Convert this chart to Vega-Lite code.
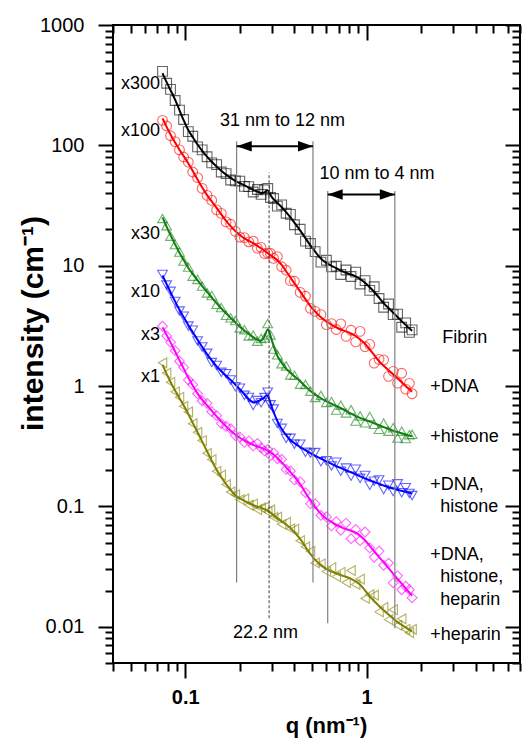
{
  "$schema": "https://vega.github.io/schema/vega-lite/v6.json",
  "width": 407,
  "height": 638,
  "autosize": "none",
  "padding": {"left": 113, "top": 25, "right": 2, "bottom": 75},
  "config": {"font": "Liberation Sans", "view": {"stroke": "black", "strokeWidth": 2}},
  "resolve": {"axis": {"x": "independent", "y": "independent"}},
  "datasets": {
    "pts": [
      {"s":"Fibrin","q":0.075,"f":397,"o":412},{"s":"Fibrin","q":0.079,"f":334,"o":328},{"s":"Fibrin","q":0.083,"f":287,"o":292},{"s":"Fibrin","q":0.088,"f":241,"o":236},{"s":"Fibrin","q":0.093,"f":196,"o":196},{"s":"Fibrin","q":0.098,"f":161,"o":164},{"s":"Fibrin","q":0.104,"f":133,"o":130},{"s":"Fibrin","q":0.11,"f":117,"o":119},{"s":"Fibrin","q":0.117,"f":101,"o":97.2},{"s":"Fibrin","q":0.124,"f":90,"o":91.7},{"s":"Fibrin","q":0.132,"f":80.4,"o":80.4},{"s":"Fibrin","q":0.14,"f":73,"o":71.6},{"s":"Fibrin","q":0.149,"f":66.5,"o":69.1},{"s":"Fibrin","q":0.158,"f":61.3,"o":60.1},{"s":"Fibrin","q":0.168,"f":57.1,"o":58.2},{"s":"Fibrin","q":0.178,"f":53.5,"o":51.5},{"s":"Fibrin","q":0.189,"f":50.7,"o":50.7},{"s":"Fibrin","q":0.2,"f":48.6,"o":50.5},{"s":"Fibrin","q":0.212,"f":46.5,"o":45.6},{"s":"Fibrin","q":0.224,"f":44.6,"o":45.4},{"s":"Fibrin","q":0.237,"f":42.6,"o":41},{"s":"Fibrin","q":0.25,"f":41.4,"o":43},{"s":"Fibrin","q":0.262,"f":39.9,"o":39.1},{"s":"Fibrin","q":0.274,"f":40.3,"o":42.7},{"s":"Fibrin","q":0.285,"f":43.8,"o":43.8},{"s":"Fibrin","q":0.295,"f":38.4,"o":36.9},{"s":"Fibrin","q":0.307,"f":35.5,"o":36.2},{"s":"Fibrin","q":0.322,"f":33.2,"o":31.3},{"s":"Fibrin","q":0.34,"f":30.8,"o":32},{"s":"Fibrin","q":0.36,"f":27.8,"o":27.3},{"s":"Fibrin","q":0.38,"f":25.2,"o":26.7},{"s":"Fibrin","q":0.4,"f":22.8,"o":21.9},{"s":"Fibrin","q":0.43,"f":19.7,"o":20.1},{"s":"Fibrin","q":0.46,"f":16.9,"o":16},{"s":"Fibrin","q":0.49,"f":14.7,"o":15.3},{"s":"Fibrin","q":0.52,"f":13.1,"o":13.1},{"s":"Fibrin","q":0.56,"f":11.3,"o":10.7},{"s":"Fibrin","q":0.6,"f":10.5,"o":11.1},{"s":"Fibrin","q":0.64,"f":9.98,"o":9.79},{"s":"Fibrin","q":0.68,"f":9.53,"o":9.9},{"s":"Fibrin","q":0.72,"f":9.12,"o":8.45},{"s":"Fibrin","q":0.77,"f":8.71,"o":9.22},{"s":"Fibrin","q":0.82,"f":8.45,"o":8.13},{"s":"Fibrin","q":0.87,"f":8.19,"o":8.85},{"s":"Fibrin","q":0.92,"f":7.76,"o":7.05},{"s":"Fibrin","q":0.98,"f":7.23,"o":7.51},{"s":"Fibrin","q":1.04,"f":6.61,"o":6.24},{"s":"Fibrin","q":1.1,"f":6.08,"o":6.69},{"s":"Fibrin","q":1.17,"f":5.44,"o":5.34},{"s":"Fibrin","q":1.24,"f":4.88,"o":4.52},{"s":"Fibrin","q":1.32,"f":4.45,"o":4.81},{"s":"Fibrin","q":1.4,"f":4.07,"o":3.92},{"s":"Fibrin","q":1.48,"f":3.74,"o":3.96},{"s":"Fibrin","q":1.56,"f":3.46,"o":3.08},{"s":"Fibrin","q":1.64,"f":3.22,"o":3.35},{"s":"Fibrin","q":1.72,"f":3.01,"o":2.79},{"s":"Fibrin","q":1.78,"f":2.88,"o":2.93},
      {"s":"+DNA","q":0.075,"f":167.7,"o":161.3},{"s":"+DNA","q":0.079,"f":142.2,"o":144.9},{"s":"+DNA","q":0.083,"f":122.5,"o":120.2},{"s":"+DNA","q":0.088,"f":105.5,"o":107.5},{"s":"+DNA","q":0.093,"f":91.7,"o":91.7},{"s":"+DNA","q":0.098,"f":81.6,"o":80},{"s":"+DNA","q":0.104,"f":71.2,"o":72.6},{"s":"+DNA","q":0.11,"f":61.3,"o":60.1},{"s":"+DNA","q":0.117,"f":51.9,"o":53.9},{"s":"+DNA","q":0.124,"f":44.7,"o":43.9},{"s":"+DNA","q":0.132,"f":38.4,"o":38.4},{"s":"+DNA","q":0.14,"f":34.2,"o":34.9},{"s":"+DNA","q":0.149,"f":30.3,"o":29.1},{"s":"+DNA","q":0.158,"f":26.7,"o":27.2},{"s":"+DNA","q":0.168,"f":23.5,"o":23.1},{"s":"+DNA","q":0.178,"f":21.3,"o":22.1},{"s":"+DNA","q":0.189,"f":19.3,"o":19.3},{"s":"+DNA","q":0.2,"f":17.97,"o":17.3},{"s":"+DNA","q":0.212,"f":16.8,"o":17.1},{"s":"+DNA","q":0.224,"f":16.1,"o":15.8},{"s":"+DNA","q":0.237,"f":15.4,"o":16},{"s":"+DNA","q":0.25,"f":14.6,"o":14},{"s":"+DNA","q":0.262,"f":13.98,"o":14.2},{"s":"+DNA","q":0.274,"f":13.3,"o":12.6},{"s":"+DNA","q":0.285,"f":12.7,"o":12.7},{"s":"+DNA","q":0.295,"f":12.25,"o":12.7},{"s":"+DNA","q":0.307,"f":11.7,"o":11.5},{"s":"+DNA","q":0.322,"f":11.2,"o":11.9},{"s":"+DNA","q":0.34,"f":10.2,"o":9.81},{"s":"+DNA","q":0.36,"f":9,"o":9.17},{"s":"+DNA","q":0.38,"f":7.96,"o":7.51},{"s":"+DNA","q":0.4,"f":7.15,"o":7.43},{"s":"+DNA","q":0.43,"f":6.12,"o":6},{"s":"+DNA","q":0.46,"f":5.26,"o":5.57},{"s":"+DNA","q":0.49,"f":4.59,"o":4.42},{"s":"+DNA","q":0.52,"f":4.17,"o":4.17},{"s":"+DNA","q":0.56,"f":3.7,"o":3.92},{"s":"+DNA","q":0.6,"f":3.43,"o":3.24},{"s":"+DNA","q":0.64,"f":3.24,"o":3.3},{"s":"+DNA","q":0.68,"f":3.07,"o":2.95},{"s":"+DNA","q":0.72,"f":2.93,"o":3.29},{"s":"+DNA","q":0.77,"f":2.85,"o":2.59},{"s":"+DNA","q":0.82,"f":2.75,"o":2.91},{"s":"+DNA","q":0.87,"f":2.61,"o":2.33},{"s":"+DNA","q":0.92,"f":2.44,"o":2.85},{"s":"+DNA","q":0.98,"f":2.25,"o":2.12},{"s":"+DNA","q":1.04,"f":2.02,"o":2.22},{"s":"+DNA","q":1.1,"f":1.81,"o":1.55},{"s":"+DNA","q":1.17,"f":1.605,"o":1.668},{"s":"+DNA","q":1.24,"f":1.472,"o":1.652},{"s":"+DNA","q":1.32,"f":1.351,"o":1.204},{"s":"+DNA","q":1.4,"f":1.251,"o":1.325},{"s":"+DNA","q":1.48,"f":1.163,"o":1.057},{"s":"+DNA","q":1.56,"f":1.076,"o":1.278},{"s":"+DNA","q":1.64,"f":1,"o":0.944},{"s":"+DNA","q":1.72,"f":0.939,"o":1.054},{"s":"+DNA","q":1.78,"f":0.898,"o":0.864},
      {"s":"+histone","q":0.075,"f":25.2,"o":24.7},{"s":"+histone","q":0.079,"f":21.1,"o":21.5},{"s":"+histone","q":0.083,"f":17.9,"o":17.6},{"s":"+histone","q":0.088,"f":15,"o":15},{"s":"+histone","q":0.093,"f":12.75,"o":13},{"s":"+histone","q":0.098,"f":11.15,"o":10.94},{"s":"+histone","q":0.104,"f":9.57,"o":9.75},{"s":"+histone","q":0.11,"f":8.51,"o":8.19},{"s":"+histone","q":0.117,"f":7.56,"o":7.7},{"s":"+histone","q":0.124,"f":6.78,"o":6.78},{"s":"+histone","q":0.132,"f":6.05,"o":5.94},{"s":"+histone","q":0.14,"f":5.45,"o":5.66},{"s":"+histone","q":0.149,"f":4.87,"o":4.78},{"s":"+histone","q":0.158,"f":4.41,"o":4.49},{"s":"+histone","q":0.168,"f":4.02,"o":3.87},{"s":"+histone","q":0.178,"f":3.69,"o":3.69},{"s":"+histone","q":0.189,"f":3.37,"o":3.5},{"s":"+histone","q":0.2,"f":3.1,"o":3.04},{"s":"+histone","q":0.212,"f":2.89,"o":2.94},{"s":"+histone","q":0.224,"f":2.71,"o":2.61},{"s":"+histone","q":0.237,"f":2.55,"o":2.65},{"s":"+histone","q":0.25,"f":2.41,"o":2.36},{"s":"+histone","q":0.262,"f":2.35,"o":2.49},{"s":"+histone","q":0.274,"f":2.52,"o":2.52},{"s":"+histone","q":0.285,"f":3.18,"o":3.31},{"s":"+histone","q":0.295,"f":2.61,"o":2.66},{"s":"+histone","q":0.307,"f":2.15,"o":2.03},{"s":"+histone","q":0.322,"f":1.75,"o":1.82},{"s":"+histone","q":0.34,"f":1.565,"o":1.535},{"s":"+histone","q":0.36,"f":1.388,"o":1.47},{"s":"+histone","q":0.38,"f":1.288,"o":1.239},{"s":"+histone","q":0.4,"f":1.206,"o":1.229},{"s":"+histone","q":0.43,"f":1.098,"o":1.037},{"s":"+histone","q":0.46,"f":0.992,"o":1.031},{"s":"+histone","q":0.49,"f":0.907,"o":0.907},{"s":"+histone","q":0.52,"f":0.853,"o":0.805},{"s":"+histone","q":0.56,"f":0.789,"o":0.836},{"s":"+histone","q":0.6,"f":0.746,"o":0.732},{"s":"+histone","q":0.64,"f":0.714,"o":0.742},{"s":"+histone","q":0.68,"f":0.683,"o":0.632},{"s":"+histone","q":0.72,"f":0.655,"o":0.694},{"s":"+histone","q":0.77,"f":0.622,"o":0.598},{"s":"+histone","q":0.82,"f":0.59,"o":0.637},{"s":"+histone","q":0.87,"f":0.563,"o":0.512},{"s":"+histone","q":0.92,"f":0.544,"o":0.565},{"s":"+histone","q":0.98,"f":0.525,"o":0.496},{"s":"+histone","q":1.04,"f":0.507,"o":0.558},{"s":"+histone","q":1.1,"f":0.491,"o":0.482},{"s":"+histone","q":1.17,"f":0.473,"o":0.438},{"s":"+histone","q":1.24,"f":0.456,"o":0.492},{"s":"+histone","q":1.32,"f":0.439,"o":0.422},{"s":"+histone","q":1.4,"f":0.426,"o":0.451},{"s":"+histone","q":1.48,"f":0.415,"o":0.37},{"s":"+histone","q":1.56,"f":0.406,"o":0.422},{"s":"+histone","q":1.64,"f":0.396,"o":0.367},{"s":"+histone","q":1.72,"f":0.387,"o":0.394},{"s":"+histone","q":1.78,"f":0.382,"o":0.397},
      {"s":"+DNA, histone","q":0.075,"f":8.29,"o":8.45},{"s":"+DNA, histone","q":0.079,"f":7.03,"o":6.9},{"s":"+DNA, histone","q":0.083,"f":6.01,"o":6.12},{"s":"+DNA, histone","q":0.088,"f":5.04,"o":5.04},{"s":"+DNA, histone","q":0.093,"f":4.28,"o":4.2},{"s":"+DNA, histone","q":0.098,"f":3.74,"o":3.81},{"s":"+DNA, histone","q":0.104,"f":3.21,"o":3.15},{"s":"+DNA, histone","q":0.11,"f":2.8,"o":2.91},{"s":"+DNA, histone","q":0.117,"f":2.42,"o":2.37},{"s":"+DNA, histone","q":0.124,"f":2.11,"o":2.11},{"s":"+DNA, histone","q":0.132,"f":1.835,"o":1.87},{"s":"+DNA, histone","q":0.14,"f":1.63,"o":1.568},{"s":"+DNA, histone","q":0.149,"f":1.455,"o":1.483},{"s":"+DNA, histone","q":0.158,"f":1.325,"o":1.3},{"s":"+DNA, histone","q":0.168,"f":1.22,"o":1.268},{"s":"+DNA, histone","q":0.178,"f":1.124,"o":1.124},{"s":"+DNA, histone","q":0.189,"f":1.027,"o":0.988},{"s":"+DNA, histone","q":0.2,"f":0.942,"o":0.96},{"s":"+DNA, histone","q":0.212,"f":0.853,"o":0.837},{"s":"+DNA, histone","q":0.224,"f":0.775,"o":0.805},{"s":"+DNA, histone","q":0.237,"f":0.718,"o":0.691},{"s":"+DNA, histone","q":0.25,"f":0.743,"o":0.757},{"s":"+DNA, histone","q":0.262,"f":0.77,"o":0.727},{"s":"+DNA, histone","q":0.274,"f":0.802,"o":0.802},{"s":"+DNA, histone","q":0.285,"f":0.873,"o":0.888},{"s":"+DNA, histone","q":0.295,"f":0.712,"o":0.698},{"s":"+DNA, histone","q":0.307,"f":0.608,"o":0.644},{"s":"+DNA, histone","q":0.322,"f":0.508,"o":0.489},{"s":"+DNA, histone","q":0.34,"f":0.437,"o":0.445},{"s":"+DNA, histone","q":0.36,"f":0.39,"o":0.368},{"s":"+DNA, histone","q":0.38,"f":0.354,"o":0.368},{"s":"+DNA, histone","q":0.4,"f":0.335,"o":0.329},{"s":"+DNA, histone","q":0.43,"f":0.311,"o":0.329},{"s":"+DNA, histone","q":0.46,"f":0.293,"o":0.282},{"s":"+DNA, histone","q":0.49,"f":0.277,"o":0.277},{"s":"+DNA, histone","q":0.52,"f":0.264,"o":0.28},{"s":"+DNA, histone","q":0.56,"f":0.249,"o":0.235},{"s":"+DNA, histone","q":0.6,"f":0.236,"o":0.24},{"s":"+DNA, histone","q":0.64,"f":0.226,"o":0.217},{"s":"+DNA, histone","q":0.68,"f":0.216,"o":0.233},{"s":"+DNA, histone","q":0.72,"f":0.208,"o":0.196},{"s":"+DNA, histone","q":0.77,"f":0.2,"o":0.208},{"s":"+DNA, histone","q":0.82,"f":0.192,"o":0.178},{"s":"+DNA, histone","q":0.87,"f":0.185,"o":0.204},{"s":"+DNA, histone","q":0.92,"f":0.178,"o":0.171},{"s":"+DNA, histone","q":0.98,"f":0.171,"o":0.181},{"s":"+DNA, histone","q":1.04,"f":0.165,"o":0.15},{"s":"+DNA, histone","q":1.1,"f":0.159,"o":0.162},{"s":"+DNA, histone","q":1.17,"f":0.154,"o":0.166},{"s":"+DNA, histone","q":1.24,"f":0.149,"o":0.138},{"s":"+DNA, histone","q":1.32,"f":0.144,"o":0.15},{"s":"+DNA, histone","q":1.4,"f":0.141,"o":0.133},{"s":"+DNA, histone","q":1.48,"f":0.137,"o":0.154},{"s":"+DNA, histone","q":1.56,"f":0.135,"o":0.13},{"s":"+DNA, histone","q":1.64,"f":0.132,"o":0.143},{"s":"+DNA, histone","q":1.72,"f":0.13,"o":0.128},{"s":"+DNA, histone","q":1.78,"f":0.128,"o":0.123},
      {"s":"+DNA, histone, heparin","q":0.075,"f":3.08,"o":3.14},{"s":"+DNA, histone, heparin","q":0.079,"f":2.66,"o":2.61},{"s":"+DNA, histone, heparin","q":0.083,"f":2.31,"o":2.31},{"s":"+DNA, histone, heparin","q":0.088,"f":1.932,"o":1.969},{"s":"+DNA, histone, heparin","q":0.093,"f":1.639,"o":1.608},{"s":"+DNA, histone, heparin","q":0.098,"f":1.401,"o":1.428},{"s":"+DNA, histone, heparin","q":0.104,"f":1.17,"o":1.126},{"s":"+DNA, histone, heparin","q":0.11,"f":1.008,"o":1.027},{"s":"+DNA, histone, heparin","q":0.117,"f":0.863,"o":0.863},{"s":"+DNA, histone, heparin","q":0.124,"f":0.768,"o":0.753},{"s":"+DNA, histone, heparin","q":0.132,"f":0.692,"o":0.719},{"s":"+DNA, histone, heparin","q":0.14,"f":0.625,"o":0.613},{"s":"+DNA, histone, heparin","q":0.149,"f":0.558,"o":0.569},{"s":"+DNA, histone, heparin","q":0.158,"f":0.507,"o":0.488},{"s":"+DNA, histone, heparin","q":0.168,"f":0.462,"o":0.462},{"s":"+DNA, histone, heparin","q":0.178,"f":0.425,"o":0.442},{"s":"+DNA, histone, heparin","q":0.189,"f":0.396,"o":0.388},{"s":"+DNA, histone, heparin","q":0.2,"f":0.371,"o":0.378},{"s":"+DNA, histone, heparin","q":0.212,"f":0.353,"o":0.34},{"s":"+DNA, histone, heparin","q":0.224,"f":0.338,"o":0.351},{"s":"+DNA, histone, heparin","q":0.237,"f":0.324,"o":0.318},{"s":"+DNA, histone, heparin","q":0.25,"f":0.315,"o":0.334},{"s":"+DNA, histone, heparin","q":0.262,"f":0.307,"o":0.307},{"s":"+DNA, histone, heparin","q":0.274,"f":0.3,"o":0.289},{"s":"+DNA, histone, heparin","q":0.285,"f":0.291,"o":0.297},{"s":"+DNA, histone, heparin","q":0.295,"f":0.281,"o":0.265},{"s":"+DNA, histone, heparin","q":0.307,"f":0.269,"o":0.279},{"s":"+DNA, histone, heparin","q":0.322,"f":0.254,"o":0.249},{"s":"+DNA, histone, heparin","q":0.34,"f":0.233,"o":0.247},{"s":"+DNA, histone, heparin","q":0.36,"f":0.211,"o":0.203},{"s":"+DNA, histone, heparin","q":0.38,"f":0.193,"o":0.197},{"s":"+DNA, histone, heparin","q":0.4,"f":0.176,"o":0.166},{"s":"+DNA, histone, heparin","q":0.43,"f":0.154,"o":0.16},{"s":"+DNA, histone, heparin","q":0.46,"f":0.13,"o":0.13},{"s":"+DNA, histone, heparin","q":0.49,"f":0.1115,"o":0.1053},{"s":"+DNA, histone, heparin","q":0.52,"f":0.099,"o":0.1048},{"s":"+DNA, histone, heparin","q":0.56,"f":0.0858,"o":0.0842},{"s":"+DNA, histone, heparin","q":0.6,"f":0.0787,"o":0.0818},{"s":"+DNA, histone, heparin","q":0.64,"f":0.0743,"o":0.0688},{"s":"+DNA, histone, heparin","q":0.68,"f":0.0704,"o":0.0746},{"s":"+DNA, histone, heparin","q":0.72,"f":0.0672,"o":0.0634},{"s":"+DNA, histone, heparin","q":0.77,"f":0.0648,"o":0.0727},{"s":"+DNA, histone, heparin","q":0.82,"f":0.0628,"o":0.0539},{"s":"+DNA, histone, heparin","q":0.87,"f":0.0608,"o":0.0644},{"s":"+DNA, histone, heparin","q":0.92,"f":0.0571,"o":0.0519},{"s":"+DNA, histone, heparin","q":0.98,"f":0.0526,"o":0.0613},{"s":"+DNA, histone, heparin","q":1.04,"f":0.047,"o":0.0452},{"s":"+DNA, histone, heparin","q":1.1,"f":0.0424,"o":0.0378},{"s":"+DNA, histone, heparin","q":1.17,"f":0.038,"o":0.0426},{"s":"+DNA, histone, heparin","q":1.24,"f":0.0343,"o":0.0324},{"s":"+DNA, histone, heparin","q":1.32,"f":0.0307,"o":0.0338},{"s":"+DNA, histone, heparin","q":1.4,"f":0.0276,"o":0.0232},{"s":"+DNA, histone, heparin","q":1.48,"f":0.025,"o":0.0265},{"s":"+DNA, histone, heparin","q":1.56,"f":0.0228,"o":0.0203},{"s":"+DNA, histone, heparin","q":1.64,"f":0.0209,"o":0.0217},{"s":"+DNA, histone, heparin","q":1.72,"f":0.0192,"o":0.0203},{"s":"+DNA, histone, heparin","q":1.78,"f":0.0181,"o":0.0174},
      {"s":"+heparin","q":0.075,"f":1.501,"o":1.56},{"s":"+heparin","q":0.079,"f":1.258,"o":1.282},{"s":"+heparin","q":0.083,"f":1.076,"o":1.076},{"s":"+heparin","q":0.088,"f":0.914,"o":0.897},{"s":"+heparin","q":0.093,"f":0.792,"o":0.807},{"s":"+heparin","q":0.098,"f":0.692,"o":0.679},{"s":"+heparin","q":0.104,"f":0.587,"o":0.61},{"s":"+heparin","q":0.11,"f":0.496,"o":0.487},{"s":"+heparin","q":0.117,"f":0.413,"o":0.413},{"s":"+heparin","q":0.124,"f":0.346,"o":0.353},{"s":"+heparin","q":0.132,"f":0.287,"o":0.276},{"s":"+heparin","q":0.14,"f":0.24,"o":0.245},{"s":"+heparin","q":0.149,"f":0.2,"o":0.196},{"s":"+heparin","q":0.158,"f":0.175,"o":0.182},{"s":"+heparin","q":0.168,"f":0.152,"o":0.152},{"s":"+heparin","q":0.178,"f":0.137,"o":0.132},{"s":"+heparin","q":0.189,"f":0.123,"o":0.125},{"s":"+heparin","q":0.2,"f":0.1163,"o":0.1141},{"s":"+heparin","q":0.212,"f":0.1113,"o":0.1156},{"s":"+heparin","q":0.224,"f":0.1067,"o":0.1026},{"s":"+heparin","q":0.237,"f":0.1027,"o":0.1047},{"s":"+heparin","q":0.25,"f":0.0996,"o":0.094},{"s":"+heparin","q":0.262,"f":0.0972,"o":0.0972},{"s":"+heparin","q":0.274,"f":0.095,"o":0.0987},{"s":"+heparin","q":0.285,"f":0.0921,"o":0.0903},{"s":"+heparin","q":0.295,"f":0.0885,"o":0.0937},{"s":"+heparin","q":0.307,"f":0.0845,"o":0.0813},{"s":"+heparin","q":0.322,"f":0.0799,"o":0.0814},{"s":"+heparin","q":0.34,"f":0.0753,"o":0.0711},{"s":"+heparin","q":0.36,"f":0.0708,"o":0.0736},{"s":"+heparin","q":0.38,"f":0.0665,"o":0.0652},{"s":"+heparin","q":0.4,"f":0.0611,"o":0.0647},{"s":"+heparin","q":0.43,"f":0.054,"o":0.0519},{"s":"+heparin","q":0.46,"f":0.0462,"o":0.0462},{"s":"+heparin","q":0.49,"f":0.04,"o":0.0424},{"s":"+heparin","q":0.52,"f":0.0359,"o":0.0339},{"s":"+heparin","q":0.56,"f":0.0327,"o":0.0333},{"s":"+heparin","q":0.6,"f":0.0299,"o":0.0288},{"s":"+heparin","q":0.64,"f":0.0287,"o":0.031},{"s":"+heparin","q":0.68,"f":0.0277,"o":0.0261},{"s":"+heparin","q":0.72,"f":0.0268,"o":0.0284},{"s":"+heparin","q":0.77,"f":0.0261,"o":0.0233},{"s":"+heparin","q":0.82,"f":0.0251,"o":0.0293},{"s":"+heparin","q":0.87,"f":0.0238,"o":0.0225},{"s":"+heparin","q":0.92,"f":0.0226,"o":0.0249},{"s":"+heparin","q":0.98,"f":0.02,"o":0.0172},{"s":"+heparin","q":1.04,"f":0.0178,"o":0.0185},{"s":"+heparin","q":1.1,"f":0.0163,"o":0.0183},{"s":"+heparin","q":1.17,"f":0.0149,"o":0.0133},{"s":"+heparin","q":1.24,"f":0.01367,"o":0.01448},{"s":"+heparin","q":1.32,"f":0.01261,"o":0.01146},{"s":"+heparin","q":1.4,"f":0.01168,"o":0.01388},{"s":"+heparin","q":1.48,"f":0.0109,"o":0.01029},{"s":"+heparin","q":1.56,"f":0.01037,"o":0.01164},{"s":"+heparin","q":1.64,"f":0.0099,"o":0.00952},{"s":"+heparin","q":1.72,"f":0.00946,"o":0.00893},{"s":"+heparin","q":1.78,"f":0.00916,"o":0.00952}
    ],
    "labels": [
      {"t":"31 nm to 12 nm","q":0.344,"I":158,"a":"c"},
      {"t":"10 nm to 4 nm","q":1.14,"I":57.4,"a":"c"},
      {"t":"22.2 nm","q":0.2773,"I":0.00887,"a":"c"},
      {"t":"x300","q":0.0727,"I":321.7,"a":"r"},
      {"t":"x100","q":0.0727,"I":130.7,"a":"r"},
      {"t":"x30","q":0.0727,"I":18.17,"a":"r"},
      {"t":"x10","q":0.0727,"I":6.1,"a":"r"},
      {"t":"x3","q":0.0727,"I":2.676,"a":"r"},
      {"t":"x1","q":0.0727,"I":1.197,"a":"r"},
      {"t":"Fibrin","q":2.61,"I":2.527,"a":"l"},
      {"t":"+DNA","q":2.24,"I":0.988,"a":"l"},
      {"t":"+histone","q":2.24,"I":0.379,"a":"l"},
      {"t":"+DNA,","q":2.24,"I":0.1511,"a":"l"},
      {"t":"histone","q":2.545,"I":0.0992,"a":"l"},
      {"t":"+DNA,","q":2.24,"I":0.03954,"a":"l"},
      {"t":"histone,","q":2.545,"I":0.02594,"a":"l"},
      {"t":"heparin","q":2.545,"I":0.01669,"a":"l"},
      {"t":"+heparin","q":2.24,"I":0.00854,"a":"l"}
    ]
  },
  "layer": [
    {
      "data": {"name": "pts"},
      "mark": {"type": "point", "filled": false, "size": 95, "strokeWidth": 1.1, "opacity": 0.6},
      "encoding": {
        "x": {
          "field": "q", "type": "quantitative",
          "scale": {"type": "log", "domain": [0.04, 7], "nice": false},
          "axis": {
            "orient": "bottom",
            "values": [0.04,0.05,0.06,0.07,0.08,0.09,0.1,0.2,0.3,0.4,0.5,0.6,0.7,0.8,0.9,1,2,3,4,5,6,7],
            "labelExpr": "datum.value == 0.1 || datum.value == 1 ? format(datum.value, '~g') : ''",
            "labelFontSize": 20, "labelFontWeight": "bold", "labelColor": "black",
            "labelPadding": 9, "labelOverlap": false, "labelFlush": false,
            "tickSize": {"condition": {"test": "datum.value == 0.1 || datum.value == 1", "value": 15}, "value": 8},
            "tickWidth": 2, "tickColor": "black", "domain": false, "grid": false,
            "title": "q (nm⁻¹)", "titleFontSize": 22, "titleFontWeight": "bold", "titleColor": "black",
            "titleX": 213, "titleY": 69, "titleBaseline": "alphabetic", "titleAlign": "center"
          }
        },
        "y": {
          "field": "o", "type": "quantitative",
          "scale": {"type": "log", "domain": [0.005, 1000], "nice": false},
          "axis": {
            "orient": "left",
            "values": [0.005,0.006,0.007,0.008,0.009,0.01,0.02,0.03,0.04,0.05,0.06,0.07,0.08,0.09,0.1,0.2,0.3,0.4,0.5,0.6,0.7,0.8,0.9,1,2,3,4,5,6,7,8,9,10,20,30,40,50,60,70,80,90,100,200,300,400,500,600,700,800,900,1000],
            "labelExpr": "indexof([0.01,0.1,1,10,100,1000], datum.value) >= 0 ? format(datum.value, '~g') : ''",
            "labelFontSize": 20, "labelColor": "black", "labelPadding": 14, "labelOverlap": false, "labelFlush": false,
            "tickSize": {"condition": {"test": "indexof([0.01,0.1,1,10,100,1000], datum.value) >= 0", "value": 15}, "value": 8},
            "tickWidth": 2, "tickColor": "black", "domain": false, "grid": false,
            "title": "intensity (cm⁻¹)", "titleFontSize": 30, "titleFontWeight": "bold", "titleColor": "black",
            "titleAngle": 270, "titleX": -71, "titleY": 298, "titleBaseline": "alphabetic", "titleAlign": "center"
          }
        },
        "color": {
          "field": "s", "type": "nominal", "legend": null,
          "scale": {
            "domain": ["Fibrin","+DNA","+histone","+DNA, histone","+DNA, histone, heparin","+heparin"],
            "range": ["#000000","#ff0000","#0f7f0f","#0000ff","#ff00ff","#808000"]
          }
        },
        "shape": {
          "field": "s", "type": "nominal", "legend": null,
          "scale": {
            "domain": ["Fibrin","+DNA","+histone","+DNA, histone","+DNA, histone, heparin","+heparin"],
            "range": ["square","circle","triangle-up","triangle-down","diamond","triangle-left"]
          }
        }
      }
    },
    {
      "data": {"name": "pts"},
      "mark": {"type": "line", "strokeWidth": 2, "interpolate": "basis"},
      "encoding": {
        "x": {"field": "q", "type": "quantitative", "scale": {"type": "log", "domain": [0.04, 7], "nice": false}, "axis": null},
        "y": {"field": "f", "type": "quantitative", "scale": {"type": "log", "domain": [0.005, 1000], "nice": false}, "axis": null},
        "color": {"field": "s", "type": "nominal", "legend": null}
      }
    },
    {
      "data": {"values": [
        {"q": 0.192, "lo": 0.02327, "hi": 108},
        {"q": 0.506, "lo": 0.02327, "hi": 108},
        {"q": 0.61, "lo": 0.01069, "hi": 41.7},
        {"q": 1.43, "lo": 0.00971, "hi": 41.7}
      ]},
      "mark": {"type": "rule", "color": "#808080", "strokeWidth": 1.2},
      "encoding": {
        "x": {
          "field": "q", "type": "quantitative",
          "scale": {"type": "log", "domain": [0.04, 7], "nice": false},
          "axis": {
            "orient": "top",
            "values": [0.04,0.05,0.06,0.07,0.08,0.09,0.1,0.2,0.3,0.4,0.5,0.6,0.7,0.8,0.9,1,2,3,4,5,6,7],
            "labels": false, "domain": false, "grid": false, "title": null,
            "tickSize": {"condition": {"test": "datum.value == 0.1 || datum.value == 1", "value": -15}, "value": -8},
            "tickWidth": 2, "tickColor": "black"
          }
        },
        "y": {
          "field": "lo", "type": "quantitative",
          "scale": {"type": "log", "domain": [0.005, 1000], "nice": false},
          "axis": {
            "orient": "right",
            "values": [0.005,0.006,0.007,0.008,0.009,0.01,0.02,0.03,0.04,0.05,0.06,0.07,0.08,0.09,0.1,0.2,0.3,0.4,0.5,0.6,0.7,0.8,0.9,1,2,3,4,5,6,7,8,9,10,20,30,40,50,60,70,80,90,100,200,300,400,500,600,700,800,900,1000],
            "labels": false, "domain": false, "grid": false, "title": null,
            "tickSize": {"condition": {"test": "indexof([0.01,0.1,1,10,100,1000], datum.value) >= 0", "value": -15}, "value": -8},
            "tickWidth": 2, "tickColor": "black"
          }
        },
        "y2": {"field": "hi"}
      }
    },
    {
      "data": {"values": [{"q": 0.29, "lo": 0.01177, "hi": 59.3}]},
      "mark": {"type": "rule", "color": "#404040", "strokeWidth": 1, "strokeDash": [3, 2]},
      "encoding": {
        "x": {"field": "q", "type": "quantitative", "scale": {"type": "log", "domain": [0.04, 7], "nice": false}, "axis": null},
        "y": {"field": "lo", "type": "quantitative", "scale": {"type": "log", "domain": [0.005, 1000], "nice": false}, "axis": null},
        "y2": {"field": "hi"}
      }
    },
    {
      "data": {"values": [
        {"q1": 0.192, "q2": 0.506, "I": 98.1},
        {"q1": 0.61, "q2": 1.43, "I": 39.1}
      ]},
      "mark": {"type": "rule", "color": "black", "strokeWidth": 2},
      "encoding": {
        "x": {"field": "q1", "type": "quantitative", "scale": {"type": "log", "domain": [0.04, 7], "nice": false}, "axis": null},
        "x2": {"field": "q2"},
        "y": {"field": "I", "type": "quantitative", "scale": {"type": "log", "domain": [0.005, 1000], "nice": false}, "axis": null}
      }
    },
    {
      "data": {"values": [{"q": 0.4602, "I": 98.1}, {"q": 1.3, "I": 39.1}]},
      "mark": {"type": "point", "shape": "M 1 0 L -1 -0.7 L -1 0.7 Z", "filled": true, "size": 225, "color": "black", "opacity": 1},
      "encoding": {
        "x": {"field": "q", "type": "quantitative", "scale": {"type": "log", "domain": [0.04, 7], "nice": false}, "axis": null},
        "y": {"field": "I", "type": "quantitative", "scale": {"type": "log", "domain": [0.005, 1000], "nice": false}, "axis": null}
      }
    },
    {
      "data": {"values": [{"q": 0.2115, "I": 98.1}, {"q": 0.671, "I": 39.1}]},
      "mark": {"type": "point", "shape": "M -1 0 L 1 -0.7 L 1 0.7 Z", "filled": true, "size": 225, "color": "black", "opacity": 1},
      "encoding": {
        "x": {"field": "q", "type": "quantitative", "scale": {"type": "log", "domain": [0.04, 7], "nice": false}, "axis": null},
        "y": {"field": "I", "type": "quantitative", "scale": {"type": "log", "domain": [0.005, 1000], "nice": false}, "axis": null}
      }
    },
    {
      "data": {"name": "labels"},
      "transform": [{"filter": "datum.a == 'c'"}],
      "mark": {"type": "text", "align": "center", "baseline": "middle", "fontSize": 18, "color": "black"},
      "encoding": {
        "x": {"field": "q", "type": "quantitative", "scale": {"type": "log", "domain": [0.04, 7], "nice": false}, "axis": null},
        "y": {"field": "I", "type": "quantitative", "scale": {"type": "log", "domain": [0.005, 1000], "nice": false}, "axis": null},
        "text": {"field": "t"}
      }
    },
    {
      "data": {"name": "labels"},
      "transform": [{"filter": "datum.a == 'r'"}],
      "mark": {"type": "text", "align": "right", "baseline": "middle", "fontSize": 18, "color": "black"},
      "encoding": {
        "x": {"field": "q", "type": "quantitative", "scale": {"type": "log", "domain": [0.04, 7], "nice": false}, "axis": null},
        "y": {"field": "I", "type": "quantitative", "scale": {"type": "log", "domain": [0.005, 1000], "nice": false}, "axis": null},
        "text": {"field": "t"}
      }
    },
    {
      "data": {"name": "labels"},
      "transform": [{"filter": "datum.a == 'l'"}],
      "mark": {"type": "text", "align": "left", "baseline": "middle", "fontSize": 18, "color": "black"},
      "encoding": {
        "x": {"field": "q", "type": "quantitative", "scale": {"type": "log", "domain": [0.04, 7], "nice": false}, "axis": null},
        "y": {"field": "I", "type": "quantitative", "scale": {"type": "log", "domain": [0.005, 1000], "nice": false}, "axis": null},
        "text": {"field": "t"}
      }
    }
  ]
}
